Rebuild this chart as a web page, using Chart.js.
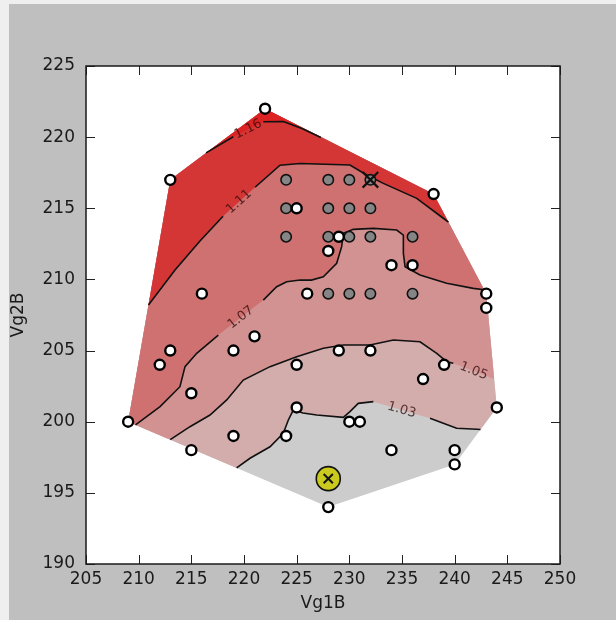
<!DOCTYPE html>
<html><head><meta charset="utf-8">
<script src="https://cdn.jsdelivr.net/npm/chart.js@4/dist/chart.umd.min.js"></script>
<style>
html,body{margin:0;padding:0;background:#efefef;}
canvas{display:block;}
</style></head><body>
<canvas id="c" width="616" height="620"></canvas>
<script>
// ---------- data ----------
const xTickValues = [205,210,215,220,225,230,235,240,245,250];
const yTickValues = [190,195,200,205,210,215,220,225];
const xTitle = 'Vg1B';
const yTitle = 'Vg2B';

// convex hull of the measured points (counter-clockwise)
const hullVertices = [[209,200],[228,194],[240,197],[244,201],[243,209],[238,216],[222,222],[213,217]];

const contourLevels = [1.03, 1.05, 1.07, 1.11, 1.16];
// null marks the gap where the level label sits
const contour103 = [[219.3,196.75],[220.57,197.43],[222.47,198.24],[223.73,199.19],[224.21,200.12],[224.68,200.82],[225.6,200.61],[226.9,200.47],[229.43,200.31],[230.06,200.71],[230.85,201.29],[232.28,201.41],null,[237.66,200.24],[238.92,199.89],[240.19,199.54],[242.09,199.47],[242.45,199.45]];
const contour105 = [[213.0,198.74],[214.87,199.65],[216.77,200.47],[218.36,201.53],[219.93,202.93],[222.47,203.87],[225.0,204.57],[227.53,205.16],[229.43,205.39],[231.96,205.39],[234.18,205.74],[236.71,205.62],[238.3,204.81],[239.24,204.22],[239.87,204.11],null,[243.75,203.0]];
const contour107 = [[209.7,199.78],[212.03,201.06],[213.92,202.46],[214.4,203.87],[215.51,204.81],[217.56,206.09],null,[221.83,208.55],[223.1,209.49],[224.05,209.84],[225.32,209.96],[226.4,209.95],[227.53,210.19],[228.8,211.13],[229.27,212.3],[229.43,213.24],[230.38,213.52],[232.28,213.59],[234.5,213.47],[235.13,213.12],[235.13,211.84],[235.29,210.89],[236.71,210.31],[239.24,209.73],[241.77,209.37],[242.8,209.28]];
const contour111 = [[210.93,208.2],[213.45,210.66],[215.82,212.7],[218.01,214.44],null,[221.05,216.48],[223.42,218.03],[225.32,218.15],[230.06,218.04],[231.65,217.34],[233.23,216.75],[236.4,215.7],[238.92,214.3],[239.41,214.03]];
const contour116 = [[216.4,218.89],[218.98,220.03],null,[221.83,221.08],[223.73,221.1],[225.5,220.6],[227.3,219.98]];
const contourLines = [contour103, contour105, contour107, contour111, contour116];

const measuredPoints = [[222,222],[213,217],[238,216],[225,215],[229,213],[228,212],[234,211],[236,211],[216,209],[226,209],[243,209],[243,208],[221,206],[213,205],[219,205],[229,205],[232,205],[212,204],[225,204],[239,204],[237,203],[215,202],[225,201],[244,201],[209,200],[230,200],[231,200],[219,199],[224,199],[215,198],[234,198],[240,198],[240,197],[228,194]];
const gridPoints = [[224,217],[228,217],[230,217],[232,217],[224,215],[228,215],[230,215],[232,215],[224,213],[228,213],[230,213],[232,213],[236,213],[228,209],[230,209],[232,209],[236,209]];
const optimumPoint = [[232,217]];
const referencePoint = [[228,196]];

// ---------- styles ----------
const bandColors = ['#cccccc','#d3acac','#d39292','#cf7171','#d43636','#dc2222'];

// ---------- helpers ----------
const toXY = p => p ? {x:p[0], y:p[1]} : {x:0, y:null};
function segDist(p,a,b){
  const dx=b[0]-a[0], dy=b[1]-a[1];
  let t=((p[0]-a[0])*dx+(p[1]-a[1])*dy)/(dx*dx+dy*dy);
  t=Math.max(0,Math.min(1,t));
  const qx=a[0]+t*dx-p[0], qy=a[1]+t*dy-p[1];
  return Math.hypot(qx,qy);
}
function edgeOf(p){
  let best=0, bd=Infinity;
  for(let i=0;i<hullVertices.length;i++){
    const d=segDist(p,hullVertices[i],hullVertices[(i+1)%hullVertices.length]);
    if(d<bd){bd=d;best=i;}
  }
  return best;
}
function regionAbove(line){
  const pts=line.filter(Boolean);
  const n=hullVertices.length;
  const s=edgeOf(pts[0]), e=edgeOf(pts[pts.length-1]);
  const out=pts.slice();
  let i=(e+1)%n;
  for(let k=0;k<n;k++){ out.push(hullVertices[i]); if(i===s) break; i=(i+1)%n; }
  return out;
}

const datasets = [];
// filled bands
datasets.push({data: hullVertices.map(toXY), showLine:true, fill:'shape', backgroundColor:bandColors[0], borderWidth:0, pointRadius:0, order:100});
contourLines.forEach((ln,k)=>{
  datasets.push({data: regionAbove(ln).map(toXY), showLine:true, fill:'shape', backgroundColor:bandColors[k+1], borderWidth:0, pointRadius:0, order:99-k});
});
// contour lines
contourLines.forEach((ln,k)=>{
  datasets.push({data: ln.map(toXY), showLine:true, fill:false, borderColor:'#111', borderWidth:1.6, pointRadius:0, spanGaps:false, order:50, contourLevel: contourLevels[k]});
});
datasets.push({data: gridPoints.map(toXY), pointRadius:5.2, pointBorderWidth:1.6, pointBackgroundColor:'#858585', pointBorderColor:'#111', order:40});
datasets.push({data: measuredPoints.map(toXY), pointRadius:5, pointBorderWidth:2.4, pointBackgroundColor:'#ffffff', pointBorderColor:'#000', order:30});
datasets.push({data: optimumPoint.map(toXY), pointStyle:'crossRot', pointRadius:11, pointBorderWidth:2.2, pointBorderColor:'#111', order:20});
datasets.push({data: referencePoint.map(toXY), pointRadius:12, pointBorderWidth:1.6, pointBackgroundColor:'#c9c91e', pointBorderColor:'#111', order:10});
datasets.push({data: referencePoint.map(toXY), pointStyle:'crossRot', pointRadius:6.5, pointBorderWidth:2, pointBorderColor:'#111', order:5});

// ---------- plugins ----------
const backdrop = {
  id:'backdrop',
  beforeDraw(chart){
    const {ctx, chartArea:a, width, height} = chart;
    ctx.save();
    ctx.fillStyle='#efefef'; ctx.fillRect(0,0,width,height);
    ctx.fillStyle='#bfbfbf'; ctx.fillRect(9,4,width-9,height-4);
    ctx.fillStyle='#ffffff'; ctx.fillRect(a.left,a.top,a.right-a.left,a.bottom-a.top);
    ctx.restore();
  }
};
const contourLabels = {
  id:'contourLabels',
  afterDatasetsDraw(chart){
    const ctx=chart.ctx;
    chart.data.datasets.forEach((ds,i)=>{
      if(ds.contourLevel===undefined) return;
      const pts=chart.getDatasetMeta(i).data;
      for(let j=1;j<pts.length-1;j++){
        if(!pts[j].skip) continue;
        const a=pts[j-1], b=pts[j+1];
        const mx=(a.x+b.x)/2, my=(a.y+b.y)/2;
        let ang=Math.atan2(b.y-a.y,b.x-a.x);
        if(ang>Math.PI/2) ang-=Math.PI;
        if(ang<-Math.PI/2) ang+=Math.PI;
        ctx.save();
        ctx.translate(mx,my); ctx.rotate(ang);
        ctx.font='13px "DejaVu Sans"';
        ctx.fillStyle='rgba(50,10,10,0.78)';
        ctx.textAlign='center'; ctx.textBaseline='middle';
        ctx.fillText(ds.contourLevel.toFixed(2),0,0);
        ctx.restore();
      }
    });
  }
};
const frame = {
  id:'frame',
  afterDraw(chart){
    const {ctx, chartArea:a} = chart;
    const xs=chart.scales.x, ys=chart.scales.y;
    const L=9;
    ctx.save();
    ctx.strokeStyle='#222'; ctx.lineWidth=1;
    ctx.beginPath();
    xTickValues.forEach(v=>{
      const p=Math.round(xs.getPixelForValue(v))+0.5;
      ctx.moveTo(p,a.bottom); ctx.lineTo(p,a.bottom-L);
      ctx.moveTo(p,a.top); ctx.lineTo(p,a.top+L);
    });
    yTickValues.forEach(v=>{
      const p=Math.round(ys.getPixelForValue(v))+0.5;
      ctx.moveTo(a.left,p); ctx.lineTo(a.left+L,p);
      ctx.moveTo(a.right,p); ctx.lineTo(a.right-L,p);
    });
    ctx.stroke();
    ctx.lineWidth=1.5; ctx.strokeStyle='#1a1a1a';
    ctx.strokeRect(a.left,a.top,a.right-a.left,a.bottom-a.top);
    ctx.restore();
  }
};

Chart.defaults.font.family='"DejaVu Sans", sans-serif';
Chart.defaults.color='#1a1a1a';

new Chart(document.getElementById('c'),{
  type:'scatter',
  data:{datasets},
  options:{
    responsive:false, animation:false, events:[],
    layout:{padding:{left:0,top:66,right:56,bottom:0}},
    plugins:{legend:{display:false}, tooltip:{enabled:false}},
    scales:{
      x:{type:'linear', min:xTickValues[0], max:xTickValues[xTickValues.length-1],
        grid:{display:false, drawTicks:false}, border:{display:false},
        ticks:{stepSize:5, autoSkip:false, maxRotation:0, padding:5, font:{size:17}, color:'#1a1a1a'},
        title:{display:true, text:xTitle, font:{size:17}, color:'#1a1a1a', padding:{top:0,bottom:6}},
        afterFit(s){ s.height=56; }
      },
      y:{type:'linear', min:yTickValues[0], max:yTickValues[yTickValues.length-1],
        grid:{display:false, drawTicks:false}, border:{display:false},
        ticks:{stepSize:5, autoSkip:false, padding:11, font:{size:17}, color:'#1a1a1a'},
        title:{display:true, text:yTitle, font:{size:17}, color:'#1a1a1a', padding:{top:8,bottom:0}},
        afterFit(s){ s.width=86; }
      }
    }
  },
  plugins:[backdrop, contourLabels, frame]
});
</script>
</body></html>
